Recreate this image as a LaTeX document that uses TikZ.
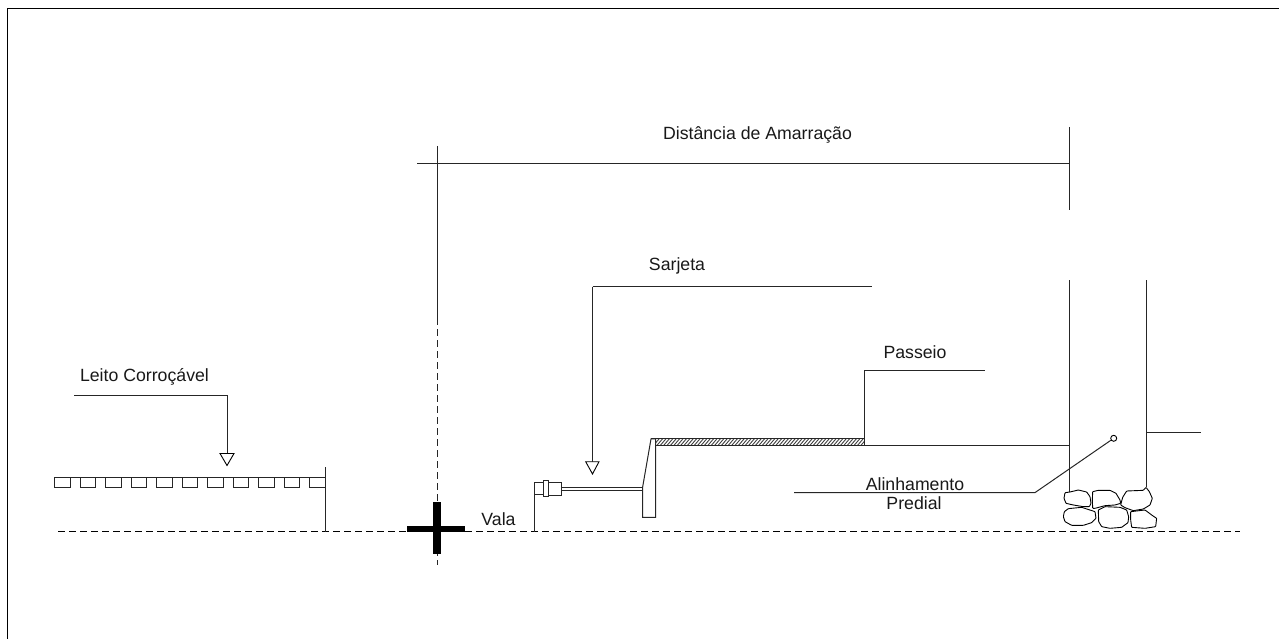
\documentclass[tikz,border=0pt]{standalone}
\usepackage{fontspec}
\setmainfont{Liberation Sans}
\tikzset{
  ln/.style={line width=1pt,draw=black!85,line join=miter},
  thinln/.style={line width=1pt,draw=black!85},
  dashln/.style={line width=1pt,draw=black,dash pattern=on 7pt off 4pt},
  tip/.style={line width=0.9pt,draw=black,fill=white},
  stone/.style={line width=0.9pt,draw=black,rounded corners=0.6pt},
  lab/.style={font=\fontsize{17.7}{20}\selectfont,text=black!90,inner sep=0pt,anchor=center}
}
\begin{document}
\begin{tikzpicture}[x=1pt,y=-1pt]
\useasboundingbox (0,0) rectangle (1279,639);
% frame
\draw[line width=1.2pt,draw=black] (7.5,639) -- (7.5,8.5) -- (1279,8.5);
% labels
\node[lab] (dist) at (757.5,134.5) {Distância de Amarração};
\node[lab] (sarj) at (677,266) {Sarjeta};
\node[lab] (leito) at (144.5,376.5) {Leito Corroçável};
\node[lab] (pass) at (915,352) {Passeio};
\node[lab] (vala) at (498.5,519) {Vala};
\node[lab] (alin) at (915,484) {Alinhamento};
\node[lab] (pred) at (914,503) {Predial};
% tie dimension
\draw[ln] (417,163.5) -- (1069.5,163.5);
\draw[ln] (437,146) -- (437,318);
\draw[ln] (1069.5,127) -- (1069.5,210);
\draw[line width=1pt,draw=black!85,dash pattern=on 7pt off 4pt] (437,318) -- (437,565);
% baseline
\draw[dashln] (58,531.5) -- (1240,531.5);
% road
\draw[ln] (74,395.5) -- (227,395.5) -- (227,453.5);
\draw[tip] (220,453.5) -- (234,453.5) -- (227,465.5) -- cycle;
\draw[ln] (54.5,477.5) -- (325,477.5);
\foreach \x in {54.5,80,105.5,131,156.5,182,207.5,233,258.5,284,309.5}
  \draw[thinln] (\x,477.5) rectangle ++(15.5,9.5);
\draw[ln] (325,467) -- (325,531.5);
% cross
\fill[black] (407,525.7) rectangle (465,532.3);
\fill[black] (432.8,501.7) rectangle (440.6,554);
% gutter
\draw[ln] (534.5,531.5) -- (534.5,482.8) -- (543.5,482.8);
\draw[thinln] (534.5,494.5) -- (543.5,494.5);
\draw[ln] (543.5,480.5) rectangle (548.3,496.7);
\draw[ln] (548.3,482.5) rectangle (561.7,495.7);
\draw[thinln] (561.7,487.3) -- (642.7,487.3);
\draw[thinln] (561.7,490.2) -- (642.7,490.2);
\draw[ln] (592.5,286.5) -- (872,286.5);
\draw[ln] (592.5,286.5) -- (592.5,461.7);
\draw[tip] (585.7,461.7) -- (599,461.7) -- (592.5,474) -- cycle;
% curb
\draw[ln] (655.7,438.9) -- (651,438.9) -- (642.7,486.7) -- (642.7,517.3) -- (655.7,517.3) -- (655.7,438.9);
% pavement band with hatching
\begin{scope}
\clip (655.7,439) rectangle (864.7,445);
\foreach \x in {650,653.4,...,870}
  \draw[line width=0.9pt,draw=black!75] (\x,445.5) -- (\x+6,438.5);
\end{scope}
\draw[ln] (651,438.9) -- (864.7,438.9);
\draw[ln] (655.7,445) -- (1069.5,445);
\draw[ln] (864.7,445) -- (864.7,370.5) -- (985,370.5);
% wall
\draw[ln] (1069.5,280) -- (1069.5,491.7);
\draw[ln] (1146.8,280) -- (1146.8,486.7);
\draw[ln] (1146.8,432.5) -- (1201,432.5);
% leader
\node[circle,draw=black,line width=0.9pt,minimum size=6pt,inner sep=0pt] (dot) at (1113.7,438.3) {};
\coordinate (knee) at (1035,492.6);
\coordinate (lend) at (794,492.6);
\draw[ln] (dot) -- (knee) -- (lend);
% stones
\begin{scope}[shift={(1030,410)},x=0.3333pt,y=-0.3333pt]
\draw[stone] (105,248) -- (120,246) -- (145,240) -- (170,246) -- (180,260) -- (183,280) -- (178,290) -- (160,290) -- (130,285) -- (108,280) -- (102,265) -- cycle;
\draw[stone] (188,245) -- (205,241) -- (240,241) -- (258,250) -- (270,270) -- (272,280) -- (255,285) -- (225,287) -- (195,295) -- (188,295) -- (187,270) -- cycle;
\draw[stone] (290,243) -- (340,241) -- (348,232) -- (358,245) -- (367,265) -- (360,285) -- (340,297) -- (310,302) -- (285,293) -- (272,285) -- (278,262) -- cycle;
\draw[stone] (115,296) -- (155,292) -- (195,305) -- (198,325) -- (185,338) -- (160,346) -- (125,346) -- (105,335) -- (100,320) -- (103,305) -- cycle;
\draw[stone] (205,300) -- (225,290) -- (270,292) -- (290,300) -- (296,320) -- (294,338) -- (275,352) -- (240,355) -- (215,350) -- (206,335) -- cycle;
\draw[stone] (302,305) -- (345,300) -- (365,315) -- (380,325) -- (377,350) -- (345,355) -- (305,352) -- (302,330) -- cycle;
\end{scope}
\end{tikzpicture}
\end{document}
